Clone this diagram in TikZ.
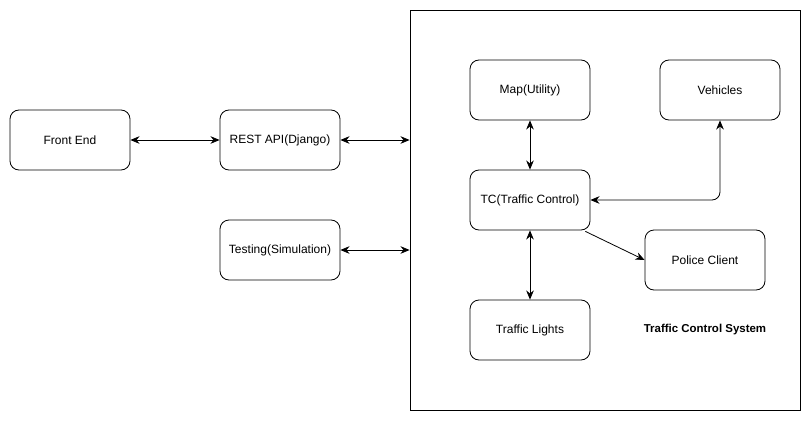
\documentclass[tikz,border=0pt]{standalone}
\usepackage{fontspec}
\setmainfont{Liberation Sans}
\usetikzlibrary{positioning,arrows.meta}
\tikzset{
  linkarrow/.style={{Stealth[length=2.4mm,width=2mm]}-{Stealth[length=2.4mm,width=2mm]}, semithick},
  onewayarrow/.style={-{Stealth[length=2.4mm,width=2mm]}, semithick},
  compbox/.style={draw, rounded corners=6.75pt, semithick, fill=white, minimum width=90pt, minimum height=45pt, align=center},
  sysbox/.style={draw, semithick, minimum width=292.5pt, minimum height=300pt},
  syslabel/.style={font=\fontsize{8.6pt}{10pt}\selectfont\bfseries}
}

\begin{document}
\begin{tikzpicture}[x=0.75pt, y=-0.75pt, every node/.style={font=\fontsize{9pt}{11pt}\selectfont}]
  \useasboundingbox (0,0) rectangle (811,421);
  \node[sysbox] (sys) at (605,210) {};
  \node[compbox] (front) at (70,140) {Front End};
  \node[compbox] (rest) at (280,140) {REST API(Django)};
  \node[compbox] (test) at (280,250) {Testing(Simulation)};
  \node[compbox] (map) at (530,90) {Map(Utility)};
  \node[compbox] (veh) at (720,90) {Vehicles};
  \node[compbox] (tc) at (530,200) {TC(Traffic Control)};
  \node[compbox] (pol) at (705,260) {Police Client};
  \node[compbox] (lights) at (530,330) {Traffic Lights};
  \node[syslabel] (systitle) at (705,330) {Traffic Control System};
  \draw[linkarrow] (front) -- (rest);
  \draw[linkarrow] (rest.east) -- (rest.east -| sys.west);
  \draw[linkarrow] (test.east) -- (test.east -| sys.west);
  \draw[linkarrow] (map) -- (tc);
  \draw[linkarrow] (tc) -- (lights);
  \draw[linkarrow, rounded corners=6pt] (tc.east) -| (veh.south);
  \draw[onewayarrow] (tc.south east) ++(-5,1) -- (pol.west);
\end{tikzpicture}
\end{document}
